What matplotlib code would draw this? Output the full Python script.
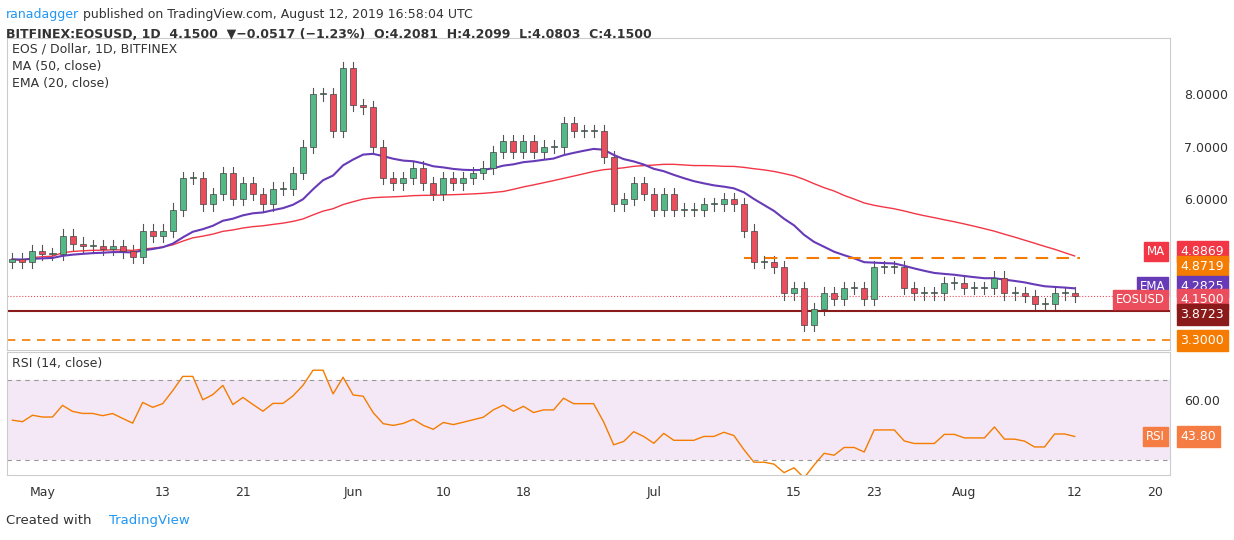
import numpy as np
import pandas as pd
import matplotlib.pyplot as plt

# daily closes, Apr 28 .. Aug 12 2019
closes = [4.85, 4.80, 5.00,
          4.95, 4.95, 5.30, 5.15, 5.10, 5.10, 5.05, 5.10, 5.00, 4.90, 5.40, 5.30, 5.40, 5.80, 6.40, 6.40,
          5.90, 6.10, 6.50, 6.00, 6.30, 6.10, 5.90, 6.20, 6.20, 6.50, 7.00, 8.00, 8.00, 7.30, 8.50,
          7.80, 7.75, 7.00, 6.40, 6.30, 6.40, 6.60, 6.30, 6.10, 6.40, 6.30, 6.40, 6.50, 6.60, 6.90,
          7.10, 6.90, 7.10, 6.90, 7.00, 7.00, 7.45, 7.30, 7.30, 7.30, 6.80, 5.90, 6.00, 6.30, 6.10,
          5.80, 6.10, 5.80, 5.80, 5.80, 5.90, 5.90, 6.00, 5.90, 5.40, 4.80, 4.80, 4.70, 4.20, 4.30,
          3.60, 3.90, 4.20, 4.10, 4.30, 4.30, 4.10, 4.70, 4.70, 4.70, 4.30, 4.20, 4.20, 4.20, 4.40,
          4.40, 4.30, 4.30, 4.30, 4.50, 4.20, 4.20, 4.15, 4.00, 4.00, 4.20, 4.20, 4.15]
first_open = 4.80
dates = pd.date_range('2019-04-28', periods=len(closes), freq='D')

tick_dates = ['2019-05-01', '2019-05-13', '2019-05-21', '2019-06-01', '2019-06-10', '2019-06-18',
              '2019-07-01', '2019-07-15', '2019-07-23', '2019-08-01', '2019-08-12', '2019-08-20']
tick_labels = ['May', '13', '21', 'Jun', '10', '18', 'Jul', '15', '23', 'Aug', '12', '20']

ma_last, ema_last, resist, support, low_lvl, rsi_last = 4.8869, 4.2825, 4.8719, 3.8723, 3.30, 43.80

UP, DOWN = '#53b987', '#eb4d5c'

c = pd.Series(closes, index=dates)
o = c.shift(1).fillna(first_open)
hi = np.maximum(o, c) + 0.12
lo = np.minimum(o, c) - 0.12
ma = c.rolling(50, min_periods=1).mean()
ema = c.ewm(span=20, adjust=False).mean()

# Wilder RSI, seeded with equal average gain/loss
avg_up, avg_dn = 0.12, 0.12
rsi = [50.0]
for i in range(1, len(closes)):
    ch = closes[i] - closes[i - 1]
    avg_up = (avg_up * 13 + max(ch, 0)) / 14
    avg_dn = (avg_dn * 13 + max(-ch, 0)) / 14
    rsi.append(100 - 100 / (1 + avg_up / avg_dn))

fig = plt.figure(figsize=(12.34, 5.4), dpi=100)
ax = fig.add_axes([0.006, 0.352, 0.942, 0.578])
ax2 = fig.add_axes([0.006, 0.12, 0.942, 0.228], sharex=ax)

x = np.arange(len(c))
for i in x:
    col = UP if c.iloc[i] >= o.iloc[i] else DOWN
    ax.plot([i, i], [lo.iloc[i], hi.iloc[i]], color='#555555', lw=0.8, zorder=2)
    ax.bar(i, abs(c.iloc[i] - o.iloc[i]) or 0.02, bottom=min(c.iloc[i], o.iloc[i]), width=0.6,
           color=col, edgecolor='#444444', lw=0.5, zorder=3)
ax.plot(x, ma, color='#f23645', lw=1)
ax.plot(x, ema, color='#673ab7', lw=1.5)
ax.axhline(support, color='#8b1a1a', lw=1.5)
ax.axhline(low_lvl, color='#f57c00', lw=1.2, ls=(0, (5, 4)))
ax.axhline(c.iloc[-1], color='#eb4d5c', lw=0.8, ls=':')
ax.plot([73, len(c) - 1 + 0.5], [resist, resist], color='#f57c00', lw=1.5, ls=(0, (6, 4)))

ax.set_xlim(-0.5, 115.5)
ax.set_ylim(3.12, 9.08)
ax.yaxis.tick_right()
ax.set_yticks([5, 6, 7, 8])
ax.set_yticklabels(['5.0000', '6.0000', '7.0000', '8.0000'])
ax.tick_params(axis='y', length=0, labelsize=9, colors='#333333', pad=10)
ax.tick_params(axis='x', length=0, labelbottom=False)

def tag(a, y, txt, col, name=None):
    a.text(1.009, y, txt, transform=a.get_yaxis_transform(), ha='left', va='center',
           fontsize=9, color='white', bbox=dict(boxstyle='square,pad=0.3', fc=col, ec=col))
    if name:
        a.text(0.996, y, name, transform=a.get_yaxis_transform(), ha='right', va='center',
               fontsize=8.5, color='white', bbox=dict(boxstyle='square,pad=0.25', fc=col, ec=col))

tag(ax, 5.0, '%.4f' % ma_last, '#f23645', name='MA')
tag(ax, 4.72, '%.4f' % resist, '#f57c00')
tag(ax, 4.33, '%.4f' % ema_last, '#673ab7', name='EMA')
tag(ax, 4.08, '%.4f' % c.iloc[-1], '#eb4d5c', name='EOSUSD')
tag(ax, 3.80, '%.4f' % support, '#8b1a1a')
tag(ax, 3.30, '%.4f' % low_lvl, '#f57c00')

ax.text(0.004, 0.985, 'EOS / Dollar, 1D, BITFINEX', transform=ax.transAxes, va='top', fontsize=9, color='#333333')
ax.text(0.004, 0.93, 'MA (50, close)', transform=ax.transAxes, va='top', fontsize=9, color='#333333')
ax.text(0.004, 0.875, 'EMA (20, close)', transform=ax.transAxes, va='top', fontsize=9, color='#333333')

ax2.axhspan(30, 70, color='#9c27b0', alpha=0.1, lw=0)
ax2.axhline(70, color='#999999', lw=0.8, ls=(0, (4, 4)))
ax2.axhline(30, color='#999999', lw=0.8, ls=(0, (4, 4)))
ax2.plot(x, rsi, color='#f57c00', lw=1)
ax2.set_ylim(22.5, 84)
ax2.yaxis.tick_right()
ax2.set_yticks([40, 60])
ax2.set_yticklabels(['40.00', '60.00'])
ax2.tick_params(axis='y', length=0, labelsize=9, colors='#333333', pad=10)
tag(ax2, rsi[-1], '%.2f' % rsi_last, '#f57c42', name='RSI')
ax2.text(0.004, 0.96, 'RSI (14, close)', transform=ax2.transAxes, va='top', fontsize=9, color='#333333')

pos = [(pd.Timestamp(t) - dates[0]).days for t in tick_dates]
ax2.set_xticks(pos)
ax2.set_xticklabels(tick_labels)
ax2.tick_params(axis='x', length=0, labelsize=9, colors='#333333', pad=8)

for a in (ax, ax2):
    for s in a.spines.values():
        s.set_color('#cccccc')

fig.text(0.005, 0.985, 'ranadagger', color='#2196f3', fontsize=9, va='top')
fig.text(0.067, 0.985, 'published on TradingView.com, August 12, 2019 16:58:04 UTC', color='#333333', fontsize=9, va='top')
fig.text(0.005, 0.948, 'BITFINEX:EOSUSD, 1D  4.1500  \u25bc\u22120.0517 (\u22121.23%)  O:4.2081  H:4.2099  L:4.0803  C:4.1500',
         color='#333333', fontsize=9, va='top', fontweight='bold')
fig.text(0.005, 0.03, 'Created with', color='#333333', fontsize=9.5)
fig.text(0.088, 0.03, 'TradingView', color='#2196f3', fontsize=9.5)

fig.savefig('out.png', dpi=100, facecolor='white')
